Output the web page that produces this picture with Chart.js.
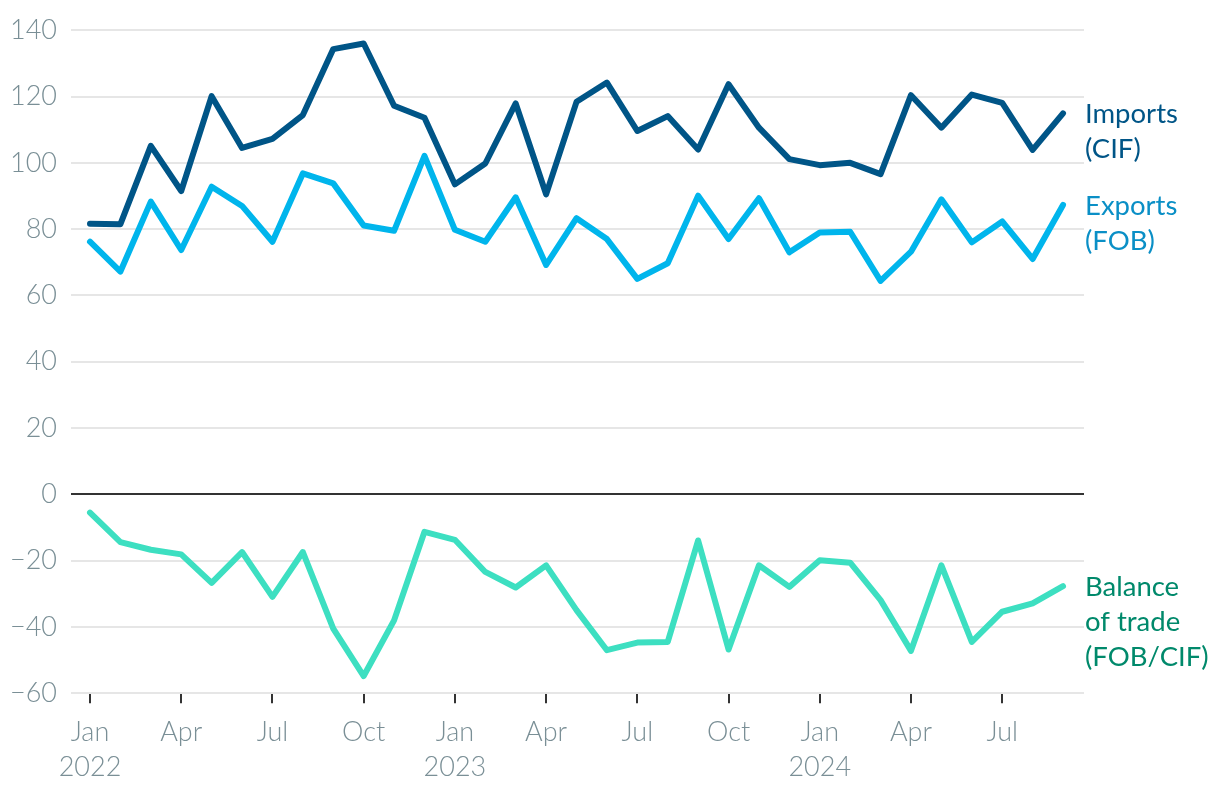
<!DOCTYPE html>
<html>
<head>
<meta charset="utf-8">
<script src="https://cdn.jsdelivr.net/npm/chart.js@4"></script>
<style>
  html, body { margin: 0; padding: 0; background: #ffffff; }
  #wrap { width: 1220px; height: 794px; }
</style>
</head>
<body>
<div id="wrap"><canvas id="c" width="1220" height="794"></canvas></div>
<script>
// Months Jan 2022 .. Sep 2024
const categories = [
  '2022-01','2022-02','2022-03','2022-04','2022-05','2022-06','2022-07','2022-08','2022-09','2022-10','2022-11','2022-12',
  '2023-01','2023-02','2023-03','2023-04','2023-05','2023-06','2023-07','2023-08','2023-09','2023-10','2023-11','2023-12',
  '2024-01','2024-02','2024-03','2024-04','2024-05','2024-06','2024-07','2024-08','2024-09'
];
const imports = [81.6,81.5,105.1,91.5,120.1,104.5,107.2,114.4,134.3,136.0,117.2,113.6,
                 93.5,99.8,117.9,90.5,118.4,124.2,109.6,114.1,104.0,123.7,110.6,101.1,
                 99.3,100.0,96.6,120.4,110.6,120.6,118.1,103.9,114.9];
const exportsFob = [76.2,67.2,88.3,73.7,92.8,87.0,76.2,96.8,93.8,81.1,79.5,102.1,
                    79.8,76.2,89.6,69.2,83.3,77.0,65.0,69.7,90.1,77.0,89.3,73.0,
                    79.0,79.2,64.4,73.2,89.0,76.0,82.3,71.0,87.3];
const balance = [-5.5,-14.4,-16.7,-18.1,-26.7,-17.4,-30.9,-17.4,-40.5,-54.8,-38.0,-11.3,
                 -13.7,-23.4,-28.1,-21.4,-34.9,-47.0,-44.7,-44.5,-13.9,-46.8,-21.4,-27.9,
                 -19.9,-20.6,-31.9,-47.2,-21.4,-44.5,-35.4,-32.9,-27.7];
const tickIndices = [0,3,6,9,12,15,18,21,24,27,30];
const tickLabels = [['Jan','2022'],'Apr','Jul','Oct',['Jan','2023'],'Apr','Jul','Oct',['Jan','2024'],'Apr','Jul'];
const yTicks = [-60,-40,-20,0,20,40,60,80,100,120,140];
const seriesNames = [['Imports','(CIF)'],['Exports','(FOB)'],['Balance','of trade','(FOB/CIF)']];
const lineColors = ['#005587','#00b5ec','#3ddfc1'];
const labelColors = ['#005587','#0a8fc6','#00896b'];

const toPoints = arr => arr.map((v, i) => ({x: i, y: v}));

const endLabels = {
  id: 'endLabels',
  afterDatasetsDraw(chart) {
    const ctx = chart.ctx;
    const area = chart.chartArea;
    ctx.save();
    ctx.font = '400 27.5px Lato';
    ctx.textAlign = 'left';
    ctx.textBaseline = 'middle';
    chart.data.datasets.forEach((ds, i) => {
      const meta = chart.getDatasetMeta(i);
      const last = meta.data[meta.data.length - 1];
      ctx.fillStyle = labelColors[i];
      seriesNames[i].forEach((line, k) => {
        ctx.fillText(line, area.right + 1, last.y + 1 + k * 35);
      });
    });
    ctx.restore();
  }
};

new Chart(document.getElementById('c'), {
  type: 'line',
  data: {
    datasets: [
      {label: 'Imports (CIF)', data: toPoints(imports), borderColor: lineColors[0]},
      {label: 'Exports (FOB)', data: toPoints(exportsFob), borderColor: lineColors[1]},
      {label: 'Balance of trade (FOB/CIF)', data: toPoints(balance), borderColor: lineColors[2]}
    ]
  },
  options: {
    responsive: false,
    animation: false,
    devicePixelRatio: 1,
    layout: {padding: {top: 28, right: 136, left: 0, bottom: 0}},
    elements: {
      line: {borderWidth: 6, tension: 0, borderCapStyle: 'round', borderJoinStyle: 'round', fill: false},
      point: {radius: 0, hoverRadius: 0}
    },
    plugins: {legend: {display: false}, tooltip: {enabled: false}},
    scales: {
      x: {
        type: 'linear',
        min: -0.625,
        max: 32.69,
        afterBuildTicks: axis => { axis.ticks = tickIndices.map(v => ({value: v})); },
        afterFit: axis => { axis.height = 100.7; },
        border: {display: false},
        grid: {drawOnChartArea: false, drawTicks: true, tickLength: 10, color: '#333333', lineWidth: 2},
        ticks: {
          autoSkip: false,
          maxRotation: 0,
          padding: 11,
          color: '#7a8f96',
          font: {family: 'Lato', size: 27, weight: 300, lineHeight: 1.3},
          callback: v => { const k = tickIndices.indexOf(v); return k >= 0 ? tickLabels[k] : ''; }
        }
      },
      y: {
        min: -60,
        max: 140,
        afterBuildTicks: axis => { axis.ticks = yTicks.map(v => ({value: v})); },
        afterFit: axis => { axis.width = 71; },
        border: {display: false},
        grid: {
          drawTicks: false,
          lineWidth: 2,
          color: c => (c.tick && c.tick.value === 0) ? '#333333' : '#e6e6e6'
        },
        ticks: {
          padding: 14,
          color: '#7a8f96',
          font: {family: 'Lato', size: 27, weight: 300},
          callback: v => v < 0 ? '\u2212' + Math.abs(v) : String(v)
        }
      }
    }
  },
  plugins: [endLabels]
});
</script>
</body>
</html>
